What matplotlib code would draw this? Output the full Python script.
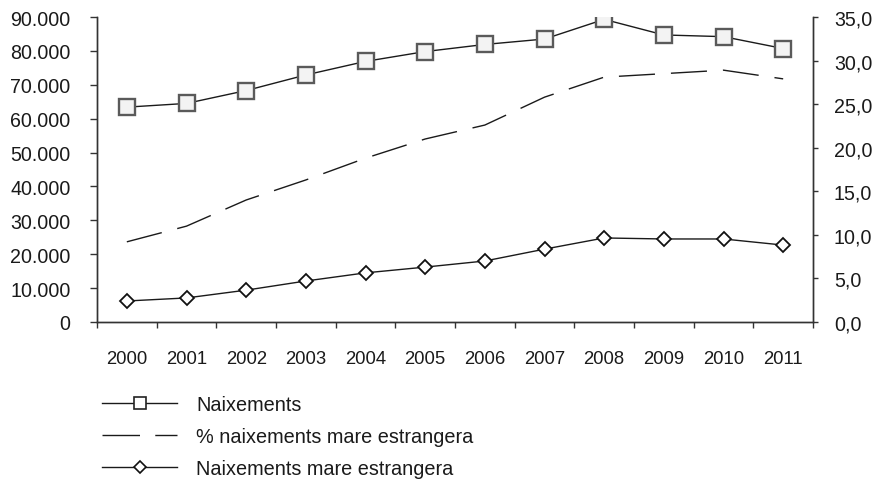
import matplotlib
matplotlib.use("Agg")
import matplotlib.pyplot as plt
from matplotlib.ticker import FixedLocator, FuncFormatter
from matplotlib.lines import Line2D

years = ["2000", "2001", "2002", "2003", "2004", "2005", "2006", "2007", "2008", "2009", "2010", "2011"]
naixements = [63400, 64500, 68300, 72900, 76900, 79800, 81900, 83500, 89300, 84700, 84200, 80700]
naix_estrangera = [6200, 7100, 9400, 12100, 14500, 16200, 18000, 21500, 24800, 24500, 24500, 22700]
pct_estrangera = [9.2, 11.0, 14.0, 16.3, 18.8, 21.0, 22.6, 25.8, 28.1, 28.5, 28.9, 27.9]

plt.rcParams['font.family'] = ['Liberation Sans', 'DejaVu Sans']
fs_y = 14.1
fs_x = 13.3
fs_leg = 14.3

fig = plt.figure(figsize=(8.77, 4.81), dpi=100)
ax = fig.add_axes([97/877, 1-323/481, (813-97)/877, (323-18)/481])
ax2 = ax.twinx()

x = list(range(len(years)))
l1, = ax.plot(x, naixements, color='#1a1a1a', lw=1.0, marker='s', markersize=11,
              markerfacecolor='#f3f3f3', markeredgecolor='#5a5a5a', markeredgewidth=1.7, zorder=3)
l3, = ax.plot(x, naix_estrangera, color='#1a1a1a', lw=1.0, marker='D', markersize=7,
              markerfacecolor='white', markeredgecolor='#111111', markeredgewidth=1.3, zorder=3)
l2, = ax2.plot(x, pct_estrangera, color='#1a1a1a', lw=1.0, dashes=(26, 11.5))

ax.set_xlim(-0.5, 11.5)
ax.set_ylim(0, 90000)
ax2.set_ylim(0, 35)

ax.set_yticks(range(0, 90001, 10000))
ax.yaxis.set_major_formatter(FuncFormatter(lambda v, p: f"{int(v):,}".replace(",", ".")))
ax2.set_yticks([i * 5 for i in range(8)])
ax2.yaxis.set_major_formatter(FuncFormatter(lambda v, p: f"{v:.1f}".replace(".", ",")))

ax.xaxis.set_major_locator(FixedLocator([i - 0.5 for i in range(13)]))
ax.xaxis.set_major_formatter(FuncFormatter(lambda v, p: ""))
ax.xaxis.set_minor_locator(FixedLocator(x))
ax.set_xticklabels(years, minor=True)
ax.tick_params(axis='x', which='major', direction='out', length=4.5, width=1, color='#333333')
ax.tick_params(axis='x', which='minor', length=0, pad=20, labelsize=fs_x, labelcolor='#1a1a1a')
ax.tick_params(axis='y', direction='out', length=5, width=1, color='#333333', labelsize=fs_y,
               labelcolor='#1a1a1a', pad=14)
ax2.tick_params(axis='y', direction='out', length=3.6, width=1, color='#333333', labelsize=fs_y,
                labelcolor='#1a1a1a', pad=11.5)

for a in (ax, ax2):
    a.spines['top'].set_visible(False)
    for s in ('left', 'right', 'bottom'):
        a.spines[s].set_color('#333333')
        a.spines[s].set_linewidth(1.0)
ax.patch.set_visible(False)

h1 = Line2D([], [], color='#1a1a1a', lw=1.0, marker='s', markersize=8.5,
            markerfacecolor='white', markeredgecolor='#222222', markeredgewidth=1.2)
h2 = Line2D([], [], color='#1a1a1a', lw=1.0, dashes=(27, 11))
h3 = Line2D([], [], color='#1a1a1a', lw=1.0, marker='D', markersize=6.5,
            markerfacecolor='white', markeredgecolor='#111111', markeredgewidth=1.2)
leg = fig.legend([h1, h2, h3], ["Naixements", "% naixements mare estrangera", "Naixements mare estrangera"],
                 loc='upper left', bbox_to_anchor=(102/877, 1-396/481), frameon=False,
                 fontsize=fs_leg, handlelength=3.8, handletextpad=0.95, labelspacing=0.66,
                 borderaxespad=0, borderpad=0, labelcolor='#1a1a1a')

fig.savefig("out.png", dpi=100)
